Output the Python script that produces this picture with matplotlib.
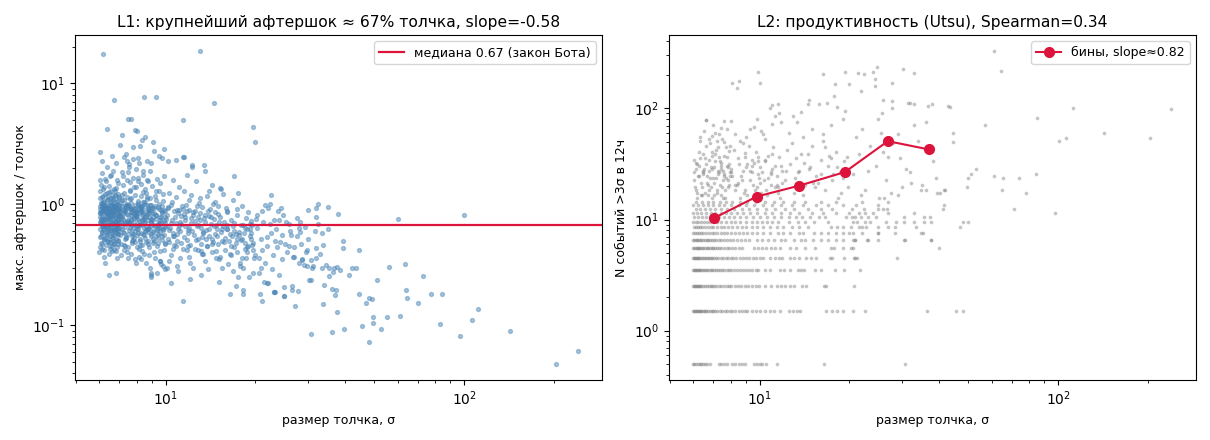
import numpy as np
import matplotlib
matplotlib.use("Agg")
import matplotlib.pyplot as plt

# ---------------- L1 data: shock size (sigma) vs max aftershock / shock ----------------
a_x = [6.02, 6.05, 6.11, 6.18, 6.23, 6.31, 6.37, 6.44, 6.52, 6.60,
       6.67, 6.74, 6.83, 6.91, 6.97, 6.04, 6.09, 6.15, 6.21, 6.28,
       6.34, 6.41, 6.48, 6.55, 6.63, 6.71, 6.79, 6.86, 6.94, 6.99,
       6.01, 6.07, 6.13, 6.19, 6.26, 6.33, 6.39, 6.46, 6.53, 6.58,
       6.65, 6.72, 6.78, 6.85, 6.92, 6.96, 6.03, 6.10, 6.16, 6.22,
       6.29, 6.36, 6.43, 6.50, 6.57, 6.64, 6.70, 6.77, 6.84, 6.90,
       6.98, 6.06, 6.12, 6.20, 6.27, 6.35, 6.42, 6.49, 6.56, 6.62,
       6.69, 6.76, 6.82, 6.88, 6.95, 6.02, 6.08, 6.14, 6.24, 6.32,
       6.40, 6.47, 6.54, 6.61, 6.68, 6.75, 6.81, 6.89, 6.93, 7.00,
       6.00, 6.05, 6.13, 6.21, 6.30, 6.38, 6.45, 6.51, 6.59, 6.66,
       6.73, 6.80, 6.87, 6.95, 6.10, 6.25, 6.35, 6.48, 6.60, 6.80,
       6.17, 6.73, 6.08, 6.18, 6.27, 6.39, 6.58, 6.64, 6.77, 6.92,
       6.03, 6.14, 6.24, 6.34, 6.44, 6.54, 6.64, 6.74, 6.84, 6.94,
       6.06, 6.16, 6.26, 6.36, 6.46, 6.56, 6.66, 6.76, 6.86, 6.96,
       6.01, 6.12, 6.23, 6.33, 6.43, 6.53, 6.63, 6.73, 6.83, 6.93]
a_y = [0.92, 0.71, 0.58, 1.05, 0.83, 0.64, 0.77, 0.95, 0.55, 0.88,
       0.69, 0.81, 0.61, 0.74, 0.99, 0.62, 0.86, 0.73, 0.52, 0.97,
       0.59, 0.84, 0.67, 0.78, 0.91, 0.56, 0.72, 0.87, 0.63, 0.80,
       1.12, 0.48, 0.79, 0.66, 1.21, 0.93, 0.50, 0.70, 1.02, 0.61,
       1.08, 0.47, 0.89, 0.68, 0.57, 1.15, 1.30, 0.43, 0.96, 0.75,
       0.84, 1.25, 0.60, 0.45, 0.82, 0.74, 1.33, 0.62, 0.94, 0.51,
       0.70, 1.45, 0.66, 0.90, 0.53, 0.72, 1.10, 0.86, 0.65, 0.58,
       0.96, 0.79, 1.18, 0.44, 0.83, 1.60, 0.55, 1.02, 1.40, 0.88,
       0.76, 0.52, 1.28, 0.98, 0.63, 1.05, 0.58, 0.73, 1.22, 0.92,
       0.40, 2.70, 1.80, 0.37, 1.55, 2.05, 0.39, 1.70, 0.41, 1.90,
       0.42, 2.20, 0.36, 1.50, 2.30, 0.33, 4.20, 0.26, 2.50, 0.27,
       17.4, 7.28, 0.70, 0.61, 0.90, 0.81, 0.67, 0.53, 0.71, 0.65,
       0.85, 0.95, 0.76, 0.99, 0.87, 0.60, 0.93, 0.88, 0.77, 0.69,
       0.73, 0.66, 0.89, 0.57, 0.94, 1.13, 0.50, 0.62, 1.00, 0.84,
       0.97, 1.16, 1.07, 0.68, 1.14, 0.80, 1.20, 0.97, 1.37, 0.47]

b_x = [7.05, 7.12, 7.21, 7.30, 7.38, 7.47, 7.55, 7.64, 7.73, 7.82,
       7.91, 8.02, 8.11, 8.22, 8.33, 8.44, 8.55, 8.67, 8.78, 8.90,
       9.02, 9.15, 9.28, 9.41, 9.55, 9.68, 9.82, 9.95, 7.08, 7.17,
       7.26, 7.35, 7.43, 7.52, 7.61, 7.70, 7.79, 7.88, 7.97, 8.07,
       8.17, 8.28, 8.38, 8.49, 8.60, 8.72, 8.84, 8.96, 9.08, 9.21,
       9.34, 9.48, 9.61, 9.75, 9.88, 7.02, 7.14, 7.24, 7.33, 7.44,
       7.57, 7.66, 7.76, 7.86, 7.95, 8.05, 8.15, 8.25, 8.36, 8.47,
       8.58, 8.70, 8.81, 8.93, 9.05, 9.18, 9.31, 9.45, 9.58, 9.72,
       9.85, 9.98, 7.10, 7.28, 7.49, 7.68, 7.90, 8.12, 8.35, 8.62,
       8.88, 9.12, 9.38, 9.66, 9.93, 7.20, 7.40, 7.62, 7.84, 8.06,
       8.30, 8.52, 8.76, 9.00, 9.26, 9.52, 9.80, 7.15, 7.53, 7.95,
       8.40, 8.85, 9.35, 9.85, 7.13, 7.41, 7.53, 7.88, 8.00, 8.07,
       8.19, 8.32, 8.51, 9.12, 9.86, 7.02, 7.47, 7.63, 7.80, 8.45,
       9.27, 8.13, 7.38, 9.50, 7.75, 8.90, 9.70, 8.65, 7.25, 9.05,
       7.06, 7.18, 7.31, 7.45, 7.58, 7.72, 7.85, 7.99, 8.14, 8.29,
       8.43, 8.57, 8.74, 8.91, 9.09, 9.29, 9.49, 9.69, 9.89, 7.22,
       7.36, 7.50, 7.65, 7.80, 7.94, 8.09, 8.24, 8.40, 8.56, 8.73,
       8.92, 9.11, 9.32, 9.53, 9.74, 9.96, 7.04, 7.27, 7.50, 7.74,
       7.98, 8.23, 8.48, 8.75, 9.03, 9.33, 9.64, 9.94, 7.39, 7.87,
       8.34, 8.83, 9.40, 7.60, 8.10, 8.68, 9.22, 9.78, 7.12, 8.50,
       8.96, 7.30, 7.70, 8.20, 8.80, 9.45, 9.92, 7.45, 8.00, 9.60,
       8.95, 8.95, 9.59, 9.80, 7.93, 8.27, 9.14, 9.43, 8.60, 7.55]
b_y = [0.88, 0.63, 0.75, 0.95, 0.54, 0.82, 0.69, 1.02, 0.58, 0.77,
       0.91, 0.66, 0.84, 0.52, 0.97, 0.72, 0.60, 0.86, 0.79, 0.55,
       0.93, 0.68, 0.81, 0.57, 0.74, 0.90, 0.62, 0.79, 0.72, 1.08,
       0.46, 0.70, 1.15, 0.61, 0.92, 0.48, 0.85, 1.20, 0.67, 0.99,
       0.43, 0.88, 1.05, 0.64, 0.49, 0.93, 1.12, 0.71, 0.52, 0.96,
       0.45, 1.00, 0.58, 0.84, 0.42, 0.56, 0.97, 1.25, 0.65, 0.40,
       1.30, 0.76, 0.51, 0.94, 1.38, 0.44, 0.73, 1.18, 0.82, 0.39,
       1.25, 0.62, 0.38, 0.98, 0.78, 0.36, 1.08, 0.69, 0.34, 0.87,
       0.56, 0.65, 0.38, 0.42, 0.36, 0.39, 0.35, 0.37, 0.41, 0.33,
       0.30, 0.40, 0.27, 0.32, 0.29, 1.45, 1.60, 1.52, 1.40, 1.65,
       1.48, 1.35, 1.55, 1.42, 1.30, 1.28, 1.22, 1.85, 2.05, 1.95,
       1.75, 1.88, 1.62, 1.70, 3.72, 2.27, 2.14, 4.09, 4.01, 2.40,
       3.02, 3.38, 3.58, 2.74, 2.85, 3.07, 5.04, 5.04, 2.96, 7.70,
       7.70, 2.18, 2.60, 2.50, 2.35, 2.20, 2.40, 2.30, 2.45, 3.30,
       0.80, 0.59, 0.90, 0.73, 0.64, 0.87, 0.71, 0.56, 0.95, 0.68,
       0.83, 0.61, 0.74, 0.89, 0.60, 0.76, 0.91, 0.51, 0.73, 0.83,
       0.99, 0.57, 0.81, 0.64, 0.85, 0.76, 0.58, 0.91, 0.70, 0.47,
       0.66, 0.84, 0.55, 0.64, 0.97, 0.48, 0.64, 0.86, 0.94, 0.68,
       0.88, 0.50, 0.76, 0.59, 0.85, 0.62, 0.79, 0.88, 0.53, 0.60,
       0.74, 0.90, 0.67, 1.10, 1.03, 1.15, 1.18, 1.06, 1.20, 1.00,
       0.25, 0.45, 0.50, 0.46, 0.44, 0.48, 0.47, 1.01, 0.62, 0.41,
       0.26, 0.27, 0.34, 0.31, 0.33, 0.35, 0.50, 0.95, 0.80, 0.70]

f_x = [6.04, 6.19, 6.33, 6.47, 6.61, 6.76, 6.90, 7.04, 7.19, 7.33,
       7.48, 7.63, 7.78, 7.93, 8.08, 8.24, 8.40, 8.57, 8.74, 8.92,
       9.10, 9.29, 9.48, 9.68, 9.88, 6.09, 6.24, 6.38, 6.53, 6.67,
       6.81, 6.95, 7.09, 7.24, 7.38, 7.53, 7.68, 7.83, 7.98, 8.14,
       8.30, 8.46, 8.63, 8.80, 8.98, 9.16, 9.35, 9.55, 9.75, 9.95,
       6.01, 6.06, 6.11, 6.16, 6.21, 6.26, 6.31, 6.36, 6.41, 6.46,
       6.51, 6.56, 6.61, 6.66, 6.71, 6.76, 6.81, 6.86, 6.91, 6.96,
       6.03, 6.13, 6.23, 6.33, 6.43, 6.53, 6.63, 6.73, 6.83, 6.93,
       7.03, 7.13, 7.23, 7.33, 7.43, 7.53, 7.63, 7.73, 7.83, 7.93,
       8.03, 8.13, 8.23, 8.33, 8.43, 8.53, 8.63, 8.73, 8.83, 8.93,
       6.07, 6.17, 6.27, 6.37, 6.47, 6.57, 6.67, 6.77, 6.87, 6.97,
       7.07, 7.27, 7.47, 7.67, 7.87, 8.07, 8.27, 8.47, 8.67, 8.87,
       6.02, 6.12, 6.22, 6.32, 6.42, 6.52, 6.62, 6.72, 6.82, 6.92,
       7.11, 7.31, 7.51, 7.71, 7.91, 8.11, 8.31, 8.51, 8.71, 8.91,
       9.07, 9.23, 9.43, 9.63, 9.83, 6.18, 6.48, 6.78, 7.58, 8.38,
       6.28, 6.58, 6.88, 7.18, 7.48, 7.78, 8.08, 8.38, 8.68, 9.58]
f_y = [0.78, 0.91, 0.66, 0.85, 0.72, 0.96, 0.60, 0.81, 0.69, 0.88,
       0.74, 0.93, 0.57, 0.80, 0.63, 0.89, 0.75, 0.66, 0.92, 0.71,
       0.59, 0.82, 0.70, 0.64, 0.90, 0.88, 0.62, 0.93, 0.76, 0.84,
       0.68, 0.91, 0.76, 0.58, 0.96, 0.72, 0.87, 0.53, 0.79, 0.68,
       0.95, 0.56, 0.83, 0.64, 0.74, 0.94, 0.61, 0.78, 0.55, 0.70,
       0.84, 0.76, 0.98, 0.69, 0.87, 0.74, 0.93, 0.80, 0.65, 0.91,
       0.77, 0.98, 0.70, 0.86, 0.93, 0.82, 0.67, 0.99, 0.75, 0.89,
       0.54, 0.59, 0.51, 0.56, 0.63, 0.49, 0.55, 0.60, 0.52, 0.57,
       0.94, 0.79, 0.89, 0.71, 0.83, 0.97, 0.74, 0.92, 0.80, 0.86,
       0.81, 0.92, 0.69, 0.86, 0.57, 0.78, 0.98, 0.63, 0.84, 0.75,
       1.03, 1.17, 0.99, 1.09, 1.26, 1.04, 1.13, 1.19, 1.06, 1.11,
       1.02, 1.09, 0.99, 1.13, 0.98, 1.07, 0.97, 1.04, 1.10, 0.99,
       0.44, 0.47, 0.42, 0.46, 0.49, 0.43, 0.45, 0.48, 0.41, 0.50,
       0.47, 0.52, 0.44, 0.55, 0.49, 0.58, 0.46, 0.53, 0.50, 0.57,
       0.48, 0.66, 0.53, 0.71, 0.61, 1.35, 1.42, 1.28, 1.32, 1.26,
       1.62, 1.75, 1.58, 1.70, 1.85, 1.64, 1.55, 1.88, 1.60, 1.50]

c_x = [10.1, 10.3, 10.5, 10.7, 10.9, 11.1, 11.3, 11.6, 11.9, 12.2,
       12.5, 12.8, 13.1, 13.4, 13.8, 14.2, 14.6, 15.0, 15.5, 16.0,
       16.5, 17.0, 17.6, 18.2, 18.8, 19.4, 10.2, 10.6, 11.0, 11.4,
       11.8, 12.3, 12.7, 13.2, 13.6, 14.1, 14.7, 15.3, 15.9, 16.6,
       17.3, 18.0, 18.7, 19.5, 10.4, 10.8, 11.2, 11.7, 12.1, 12.6,
       13.0, 13.5, 14.0, 14.5, 15.1, 15.7, 16.3, 17.0, 17.7, 18.5,
       19.2, 19.9, 10.0, 10.5, 10.9, 11.5, 12.0, 12.4, 12.9, 13.3,
       13.9, 14.4, 14.9, 15.4, 16.1, 16.8, 17.4, 18.1, 18.9, 19.6,
       10.2, 10.7, 11.3, 11.9, 12.5, 13.1, 13.7, 14.3, 15.0, 15.8,
       16.7, 17.5, 18.4, 19.3, 10.3, 10.8, 11.5, 12.2, 13.0, 13.8,
       14.6, 15.6, 16.8, 18.0, 19.4, 10.6, 11.1, 11.8, 12.6, 13.4,
       14.3, 15.3, 16.9, 11.4, 12.3, 13.5, 11.4, 13.0, 14.5, 19.7,
       19.9, 10.2, 10.8, 11.5, 12.3, 14.0, 15.2, 17.5, 22.5, 10.4,
       11.4, 16.4, 18.1, 18.1, 17.2, 15.1, 13.1, 12.1, 11.0, 10.1,
       10.4, 11.0, 11.6, 12.4, 13.2, 14.0, 14.8, 15.6, 16.5, 17.4,
       18.3, 19.2, 10.6, 11.2, 12.0, 12.8, 13.6, 14.4, 15.2, 16.1,
       17.0, 17.9, 18.8, 19.8, 10.9, 11.8, 12.8, 13.9, 15.0, 16.2,
       17.4, 18.6, 19.6, 14.8, 13.3, 12.0, 10.3, 16.0, 17.8, 19.0]
c_y = [0.82, 0.61, 0.74, 0.55, 0.90, 0.66, 0.48, 0.79, 0.58, 0.70,
       0.88, 0.52, 0.64, 0.77, 0.45, 0.69, 0.57, 0.83, 0.50, 0.62,
       0.74, 0.44, 0.56, 0.68, 0.40, 0.52, 0.95, 0.43, 0.62, 0.92,
       0.42, 0.60, 0.96, 0.39, 0.71, 0.92, 0.41, 0.59, 0.93, 0.38,
       0.82, 0.36, 0.63, 0.46, 0.38, 0.70, 0.36, 0.98, 0.33, 0.51,
       0.85, 0.34, 0.55, 0.75, 0.35, 0.72, 0.50, 0.60, 0.33, 0.48,
       0.69, 0.38, 0.66, 1.05, 0.31, 0.54, 1.08, 0.30, 1.02, 0.59,
       0.29, 1.00, 0.63, 0.30, 0.86, 0.28, 0.92, 0.30, 0.86, 0.27,
       0.52, 0.46, 0.80, 0.45, 0.73, 0.47, 0.52, 0.40, 0.47, 0.42,
       0.55, 0.25, 0.43, 0.58, 1.25, 1.15, 1.30, 1.20, 1.12, 1.18,
       1.05, 1.22, 1.08, 0.96, 0.73, 1.60, 1.40, 1.75, 1.55, 2.10,
       1.45, 1.35, 1.70, 2.44, 2.02, 1.90, 4.94, 18.5, 6.84, 4.33,
       3.25, 2.27, 2.31, 2.45, 2.10, 1.28, 1.36, 1.25, 1.19, 0.222,
       0.158, 0.181, 0.197, 0.181, 0.21, 0.23, 0.26, 0.24, 0.28, 0.30,
       0.70, 0.85, 0.66, 0.82, 0.54, 0.63, 0.68, 0.66, 0.45, 0.52,
       0.58, 0.62, 0.58, 0.72, 0.64, 0.67, 0.82, 0.49, 0.78, 0.67,
       0.70, 0.51, 0.44, 0.36, 0.50, 0.88, 0.42, 0.88, 0.96, 0.32,
       0.40, 0.77, 0.48, 0.36, 0.39, 0.37, 0.34, 0.88, 0.31, 0.25]

g_x = [10.05, 10.35, 10.65, 10.95, 11.25, 11.55, 11.85, 12.15, 12.45, 12.75,
       13.05, 13.35, 13.65, 13.95, 14.25, 14.55, 14.85, 15.15, 15.45, 15.75,
       16.05, 16.45, 16.85, 17.25, 17.65, 18.05, 18.45, 18.85, 19.25, 19.65,
       10.15, 10.45, 10.75, 11.05, 11.35, 11.65, 11.95, 12.35, 12.85, 13.25,
       10.25, 10.55, 10.85, 11.15, 11.45, 11.75, 12.05, 12.55, 13.15, 13.75,
       14.15, 14.65, 15.25, 15.85, 16.45, 17.15, 17.85, 18.65, 19.45, 14.35]
g_y = [0.76, 0.64, 0.88, 0.57, 0.69, 0.83, 0.61, 0.77, 0.56, 0.66,
       0.74, 0.58, 0.61, 0.80, 0.52, 0.66, 0.55, 0.71, 0.62, 0.49,
       0.63, 0.57, 0.66, 0.48, 0.59, 0.52, 0.64, 0.45, 0.55, 0.42,
       0.93, 0.98, 0.79, 0.89, 0.96, 0.74, 0.90, 0.86, 0.79, 0.95,
       0.49, 0.55, 0.45, 0.60, 0.43, 0.51, 0.46, 0.43, 0.41, 0.45,
       0.78, 0.86, 0.37, 0.53, 0.39, 0.57, 0.67, 0.36, 0.68, 0.47]

d_x = [21.5, 22.4, 22.1, 24.3, 23.8, 24.8, 30.1, 31.8, 32.4, 31.8,
       32.5, 37.7, 23.0, 23.9, 26.0, 27.6, 27.9, 28.1, 26.4, 27.5,
       29.4, 31.7, 33.3, 31.8, 33.0, 32.0, 30.6, 28.7, 29.2, 39.4,
       39.2, 34.4, 35.4, 36.8, 38.5, 37.4, 36.3, 35.4, 30.3, 30.6,
       34.0, 36.0, 36.9, 37.3, 27.2, 25.0, 26.5, 27.7, 33.8, 37.4,
       39.7, 36.2, 30.6, 20.3, 20.8, 21.2, 21.8, 22.6, 23.4, 24.1,
       25.2, 26.2, 20.5, 21.1, 21.9, 22.9, 23.6, 24.6, 25.6, 20.2,
       20.9, 21.6, 22.7, 23.3, 24.5, 25.9, 26.8, 28.4, 29.8, 20.6,
       21.4, 22.0, 23.2, 24.0, 26.5, 28.0, 29.6, 31.2, 33.6, 35.0,
       20.1, 21.0, 22.3, 25.4, 29.9, 20.7, 21.8, 23.0, 24.9, 27.0,
       24.9, 23.1, 21.0, 26.9, 28.6, 29.8, 31.0, 33.5, 35.0, 28.2]
d_y = [0.98, 1.00, 0.94, 0.93, 0.875, 0.81, 0.892, 0.927, 1.00, 0.78,
       0.683, 0.827, 0.738, 0.738, 0.683, 0.766, 0.634, 0.71, 0.557, 0.544,
       0.653, 0.597, 0.575, 0.437, 0.387, 0.358, 0.344, 0.344, 0.313, 0.495,
       0.432, 0.315, 0.295, 0.295, 0.285, 0.302, 0.274, 0.254, 0.239, 0.239,
       0.214, 0.198, 0.177, 0.195, 0.144, 0.174, 0.195, 0.191, 0.149, 0.128,
       0.094, 0.0875, 0.0843, 0.64, 0.52, 0.71, 0.45, 0.58, 0.62, 0.49,
       0.47, 0.60, 0.36, 0.42, 0.54, 0.38, 0.44, 0.56, 0.40, 0.82,
       0.30, 0.33, 0.29, 0.50, 0.35, 0.45, 0.37, 0.47, 0.42, 0.27,
       0.23, 0.225, 0.19, 0.26, 0.21, 0.33, 0.40, 0.31, 0.46, 0.63,
       0.75, 0.88, 0.69, 0.72, 0.52, 0.18, 0.225, 0.187, 0.207, 0.44,
       0.174, 0.187, 0.158, 0.37, 0.35, 0.31, 0.30, 0.30, 0.95, 0.59]

e_x = [44.3, 60.3, 100.0, 44.3, 56.2, 63.6, 73.1, 51.1, 45.5, 46.8,
       47.9, 49.3, 49.7, 49.7, 52.5, 48.2, 55.3, 60.8, 64.0, 64.5,
       70.3, 77.8, 84.6, 83.2, 97.0, 111.7, 106.7, 143.0, 204.0, 241.0,
       42.0, 43.3, 41.3]
e_y = [0.417, 0.75, 0.82, 0.180, 0.302, 0.319, 0.254, 0.236, 0.0987, 0.152,
       0.167, 0.165, 0.116, 0.104, 0.0927, 0.0724, 0.118, 0.119, 0.195, 0.167,
       0.152, 0.180, 0.180, 0.102, 0.081, 0.136, 0.111, 0.090, 0.0477, 0.0614,
       0.295, 0.295, 0.259]

median_ratio = 0.67

# ---------------- L2 data: shock size vs number of >3sigma events in 12h ----------------
n00 = [6.0, 6.05, 6.1, 6.2, 6.3, 6.35, 6.45, 6.55, 6.65, 6.8, 7.3, 7.45, 7.6, 7.75,
       8.1, 8.3, 8.5, 8.75, 8.95, 9.6, 9.8, 10.0, 10.2, 10.5, 11.4, 16.4, 30.8]
n01 = [6.0, 6.03, 6.07, 6.1, 6.15, 6.2, 6.25, 6.3, 6.35, 6.4, 6.5, 6.55, 6.6, 6.7, 6.8,
       6.9, 7.0, 7.1, 7.2, 7.35, 7.5, 7.65, 7.8, 7.95, 8.1, 8.3, 8.5, 8.7, 8.9, 9.1, 9.4,
       9.7, 10.0, 10.4, 10.8, 11.2, 11.7, 12.5, 12.9, 13.3, 13.7, 16.7, 17.5, 18.2, 19.0,
       20.6, 22.6, 36.5, 45.6, 48.1]
n02 = [6.0, 6.03, 6.07, 6.1, 6.15, 6.2, 6.25, 6.3, 6.35, 6.45, 6.55, 6.65, 6.75, 6.85,
       6.95, 7.05, 7.15, 7.3, 7.45, 7.6, 7.75, 7.9, 8.05, 8.25, 8.45, 8.65, 8.9, 9.15, 9.4,
       9.7, 9.95, 10.4, 10.9, 11.4, 11.8, 12.2, 12.6, 13.0, 13.9, 14.3, 16.4, 16.7, 20.7]
n03 = [6.0, 6.03, 6.07, 6.1, 6.15, 6.2, 6.25, 6.3, 6.38, 6.45, 6.52, 6.6, 6.68, 6.76,
       6.85, 6.95, 7.05, 7.15, 7.25, 7.35, 7.5, 7.62, 7.75, 7.9, 8.05, 8.2, 8.4, 8.6, 8.8,
       9.0, 9.2, 9.45, 9.7, 9.9, 10.4, 10.8, 11.7, 12.1, 12.6, 13.4, 13.8, 14.1, 15.3,
       16.0, 17.9, 19.2, 21.7]
n04 = [6.0, 6.04, 6.08, 6.12, 6.17, 6.22, 6.28, 6.33, 6.4, 6.47, 6.55, 6.62, 6.7, 6.78,
       6.86, 6.95, 7.05, 7.15, 7.25, 7.4, 7.55, 7.7, 7.85, 8.0, 8.15, 8.33, 8.6, 8.8, 9.0,
       9.23, 9.5, 9.75, 10.0, 10.3, 10.8, 11.3, 11.6, 11.9, 12.6, 13.0, 13.6, 14.3, 14.9,
       15.5, 17.2, 17.5, 19.2, 20.7, 20.8, 21.2, 28.9]
n05 = [6.0, 6.05, 6.1, 6.15, 6.2, 6.27, 6.33, 6.4, 6.48, 6.56, 6.64, 6.72, 6.8, 6.9,
       7.0, 7.1, 7.2, 7.3, 7.45, 7.6, 7.75, 7.9, 8.1, 8.3, 8.5, 8.7, 9.6, 9.9, 10.2, 10.5,
       10.9, 11.3, 11.7, 12.6, 13.2, 14.2, 15.3, 17.3, 17.8, 19.1, 20.2, 20.5, 39.8]
n06 = [6.0, 6.05, 6.1, 6.17, 6.24, 6.3, 6.38, 6.46, 6.55, 6.64, 6.73, 6.83, 6.93, 7.05,
       7.17, 7.3, 7.45, 7.6, 7.78, 7.95, 8.15, 8.4, 8.65, 8.9, 9.2, 9.8, 10.2, 10.7, 11.2,
       11.8, 12.2, 13.0, 13.8, 14.2, 15.1, 16.0, 17.0, 18.0, 19.1, 20.5, 20.8, 20.9, 22.9,
       23.0, 25.0, 30.5, 30.7, 37.4, 37.6]
n07 = [6.0, 6.07, 6.15, 6.25, 6.35, 6.45, 6.6, 6.75, 6.9, 7.05, 7.2, 7.4, 7.6, 7.8, 8.0,
       8.25, 8.5, 8.8, 9.1, 9.4, 9.8, 10.3, 10.8, 11.5, 12.0, 12.6, 13.5, 14.0, 15.2,
       16.0, 17.0, 18.0, 19.0, 20.0, 20.5, 22.1, 24.9, 25.0, 28.5, 34.8, 35.3]
n08 = [6.02, 6.1, 6.2, 6.3, 6.42, 6.55, 6.7, 6.85, 7.0, 7.2, 7.4, 7.6, 7.85, 8.1, 8.4,
       8.7, 9.0, 9.4, 9.8, 10.3, 10.8, 11.4, 12.0, 12.8, 13.6, 14.5, 17.3, 18.2, 19.0,
       20.2, 21.6, 22.1, 22.8, 24.9, 27.0, 28.5, 33.5, 46.8]
n09 = [6.0, 6.1, 6.22, 6.35, 6.5, 6.65, 6.8, 7.0, 7.2, 7.45, 7.7, 8.0, 8.3, 8.6, 9.0,
       9.4, 9.8, 10.2, 10.6, 11.0, 11.5, 12.5, 13.4, 14.2, 15.2, 17.0, 20.5, 21.2, 22.5,
       23.5, 26.5, 28.6, 30.4, 33.0, 35.5, 37.4, 47.9, 49.8]
n10 = [6.05, 6.2, 6.4, 6.6, 6.8, 7.05, 7.3, 7.6, 7.9, 8.2, 8.6, 9.0, 9.5, 10.0, 10.6,
       11.2, 11.8, 12.5, 13.2, 13.9, 14.8, 15.8, 16.5, 19.5, 20.4, 20.9, 21.8, 23.0, 24.5,
       30.4, 35.5, 37.1]
n11 = [6.0, 6.15, 6.35, 6.6, 6.85, 7.1, 7.4, 7.7, 8.0, 8.4, 8.8, 9.3, 9.8, 10.4, 11.0,
       11.8, 12.6, 13.5, 15.0, 16.3, 18.0, 20.0, 21.5, 22.6, 24.0, 27.0, 33.0, 97.8]
n12 = [6.1, 6.3, 6.55, 6.8, 7.1, 7.4, 7.8, 8.2, 8.7, 9.2, 9.8, 10.5, 11.3, 12.2, 13.0,
       14.5, 16.0, 17.5, 20.4, 22.4, 25.0, 26.0, 26.8, 41.2, 71.0]
n13 = [6.0, 6.2, 6.45, 6.7, 7.0, 7.3, 7.6, 8.0, 8.5, 9.0, 9.6, 10.3, 11.0, 11.8, 12.8,
       14.0, 15.5, 17.0, 19.0, 21.0, 25.0, 41.5]
n14 = [6.1, 6.4, 6.7, 7.0, 7.35, 7.7, 8.1, 8.6, 9.1, 9.7, 10.4, 11.2, 12.0, 13.0, 14.2,
       16.0, 18.0, 22.0, 27.0]

up_x = [6.03, 6.12, 6.19, 6.31, 6.42, 6.48, 6.61, 6.72, 6.79, 6.91, 7.03, 7.09, 7.22, 7.31, 7.42, 7.53, 7.58, 7.71, 7.83, 7.88,
        6.05, 6.15, 6.25, 6.35, 6.45, 6.55, 6.65, 6.75, 6.85, 6.95, 7.05, 7.15, 7.25, 7.35, 7.45, 7.55, 7.65, 7.75, 7.85, 7.95,
        6.02, 6.22, 6.42, 6.62, 6.82, 7.02, 7.22, 7.42, 7.62, 7.82, 6.12, 6.32, 6.52, 6.72, 6.92, 7.12, 7.32, 7.52, 7.72, 7.92,
        6.3, 6.5, 6.8, 7.0, 7.3, 7.5, 7.8, 6.6, 7.1, 7.6, 6.9, 7.4,
        6.59, 7.57, 8.01, 8.11, 8.43, 8.56, 9.84, 10.0,
        8.1, 8.3, 8.5, 8.7, 8.9, 9.1, 9.3, 9.5, 9.7, 9.9, 10.1, 10.4, 10.7, 11.0, 11.3, 11.6, 11.9, 8.2, 8.6, 9.0,
        9.4, 9.8, 10.2, 10.6, 11.0, 11.4, 11.8, 8.4, 8.8, 9.2, 9.6, 10.0, 10.5, 11.1, 11.7, 8.0, 8.9, 9.9, 10.9, 11.5,
        8.3, 8.8, 9.3, 9.8, 10.4, 11.0, 11.6, 9.0, 10.1, 10.8, 11.3, 11.0, 11.5, 8.6, 9.6, 10.3, 11.8,
        12.2, 12.6, 13.0, 13.4, 13.8, 14.2, 14.6, 15.0, 15.5, 16.0, 16.5, 17.0, 17.5, 18.0, 18.6, 19.2, 19.8, 12.4, 13.2, 14.0,
        14.8, 15.7, 16.6, 17.6, 18.7, 19.6, 12.8, 13.6, 14.5, 15.3, 16.3, 17.3, 18.3, 19.4,
        12.5, 13.3, 14.0, 14.6, 14.5, 15.8, 16.8, 17.8, 18.2, 19.4, 12.9, 15.0, 16.3, 17.3, 13.8, 19.0,
        16.3, 17.9, 19.3,
        20.0, 21.3, 22.4, 23.9, 24.8, 30.3, 32.8, 24.4, 24.4, 27.8, 21.9, 25.9, 27.8, 27.8, 25.8, 31.5, 32.0, 33.0, 36.6, 37.9, 42.9,
        20.5, 21.5, 22.5, 23.5, 24.5, 25.5, 26.5, 28.0, 29.5, 31.0, 33.0, 35.0, 37.0, 21.0, 23.0, 25.0, 27.0, 30.0, 34.0, 38.0,
        22.0, 26.0, 29.0, 32.0, 36.0,
        25.2, 26.2, 21.9, 29.2, 27.6, 40.1, 34.8, 36.0, 41.9, 49.7, 32.2,
        60.8, 64.4, 57.1, 112.0, 240.0, 84.9, 143.0, 203.0, 106.0, 101.0, 84.1, 78.1, 65.2, 74.1, 60.8, 64.9,
        53.1, 51.2, 49.9, 44.4, 44.4, 43.5, 41.5, 39.4, 38.9,
        6.08, 6.18, 6.28, 6.38, 6.48, 6.58, 6.68, 6.78, 6.88, 6.98, 7.08, 7.18, 7.28, 7.38, 7.48, 7.58, 7.68, 7.78, 7.88, 7.98,
        8.05, 8.25, 8.45, 8.65, 8.85, 9.05, 9.25, 9.45, 9.65, 9.85, 10.05, 10.35, 10.65, 10.95, 11.25, 11.55, 11.85, 6.26, 6.76, 7.26,
        6.14, 6.44, 6.94, 7.44, 7.94, 8.44, 8.94, 9.44, 9.94, 10.44, 10.94, 11.44, 12.3, 13.1, 14.1, 15.1, 16.1, 17.1, 18.1, 19.1]
up_n = [22, 28, 17, 35, 19, 25, 31, 16, 27, 40, 21, 33, 18, 26, 30, 15, 37, 23, 29, 20,
        26, 15, 30, 21, 38, 17, 24, 34, 19, 28, 16, 42, 25, 20, 32, 27, 18, 36, 22, 45,
        34, 24, 16, 45, 23, 29, 50, 16, 24, 19, 18, 50, 28, 20, 15, 23, 36, 22, 44, 31,
        55, 62, 48, 70, 58, 52, 65, 78, 60, 49, 56, 66,
        78, 76, 76, 168, 151, 175, 211, 168,
        24, 18, 31, 22, 36, 16, 27, 20, 40, 25, 17, 33, 23, 28, 19, 36, 21, 42, 15, 29,
        34, 19, 26, 16, 38, 24, 30, 20, 27, 45, 32, 21, 18, 44, 15, 26, 39, 36, 20, 17,
        58, 48, 65, 80, 52, 72, 90, 55, 62, 100, 85, 106, 109, 50, 68, 58, 75,
        22, 31, 17, 26, 38, 20, 28, 45, 24, 34, 18, 30, 22, 40, 26, 33, 19, 42, 35, 16,
        29, 21, 44, 25, 17, 36, 48, 27, 38, 19, 50, 35, 15, 28,
        60, 75, 55, 118, 109, 109, 112, 128, 102, 95, 85, 65, 58, 70, 92, 80,
        202, 164, 211,
        164, 207, 202, 211, 234, 224, 207, 182, 158, 168, 142, 118, 116, 100, 90, 111, 111, 109, 104, 109, 104,
        25, 38, 18, 45, 30, 60, 22, 48, 35, 28, 70, 20, 42, 55, 27, 80, 36, 19, 50, 33,
        65, 40, 58, 26, 75,
        15, 15, 16, 16, 17, 17, 18, 18, 18, 19, 21,
        327, 216, 71, 101, 98, 82, 59, 54, 54, 50, 25, 17, 23, 23, 24, 18,
        28, 25, 23, 60, 49, 102, 18, 17, 23,
        19, 31, 24, 16, 27, 35, 21, 18, 29, 23, 38, 17, 27, 33, 19, 25, 15, 30, 41, 26,
        28, 20, 35, 24, 17, 31, 22, 26, 18, 33, 29, 22, 37, 25, 30, 19, 27, 40, 52, 44,
        32, 26, 37, 28, 24, 21, 18, 30, 23, 34, 26, 20, 27, 23, 32, 21, 25, 37, 29, 23]

bin_x = [7.03, 9.79, 13.6, 19.3, 26.9, 36.9]
bin_y = [10.3, 16.1, 20.2, 26.7, 50.7, 42.7]

# ---------------- assemble ----------------
l1_x = np.array(a_x + b_x + f_x + c_x + g_x + d_x + e_x)
l1_y = np.array(a_y + b_y + f_y + c_y + g_y + d_y + e_y)

rows = [n00, n01, n02, n03, n04, n05, n06, n07, n08, n09, n10, n11, n12, n13, n14]
l2_x = []
l2_n = []
for n, xs in enumerate(rows):
    l2_x += xs
    l2_n += [n] * len(xs)
l2_x += up_x
l2_n += up_n
l2_x = np.array(l2_x)
l2_y = np.array(l2_n) + 0.5

# ---------------- plot ----------------
fig = plt.figure(figsize=(12.1, 4.4), dpi=100)
ax1 = fig.add_axes([75 / 1210, 60 / 440, 527 / 1210, 345 / 440])
ax2 = fig.add_axes([669 / 1210, 60 / 440, 527 / 1210, 345 / 440])

ax1.scatter(l1_x, l1_y, s=8, color="steelblue", alpha=0.45)
ax1.axhline(median_ratio, color="crimson", lw=1.6, label="медиана 0.67 (закон Бота)")
ax1.set_xscale("log")
ax1.set_yscale("log")
ax1.set_xlim(4.97, 290)
ax1.set_ylim(0.0353, 25.1)
ax1.set_title("L1: крупнейший афтершок ≈ 67% толчка, slope=-0.58", fontsize=11.2)
ax1.set_xlabel("размер толчка, σ", fontsize=9)
ax1.set_ylabel("макс. афтершок / толчок", fontsize=9)
ax1.legend(loc="upper right", fontsize=9)

ax2.scatter(l2_x, l2_y, s=3, color="gray", alpha=0.35)
ax2.plot(bin_x, bin_y, "o-", color="crimson", lw=1.5, ms=7, label="бины, slope≈0.82")
ax2.set_xscale("log")
ax2.set_yscale("log")
ax2.set_xlim(4.97, 290)
ax2.set_ylim(0.36, 457)
ax2.set_title("L2: продуктивность (Utsu), Spearman=0.34", fontsize=11.2)
ax2.set_xlabel("размер толчка, σ", fontsize=9)
ax2.set_ylabel("N событий >3σ в 12ч", fontsize=9)
ax2.legend(loc="upper right", fontsize=9)

fig.savefig("out.png", dpi=100)
